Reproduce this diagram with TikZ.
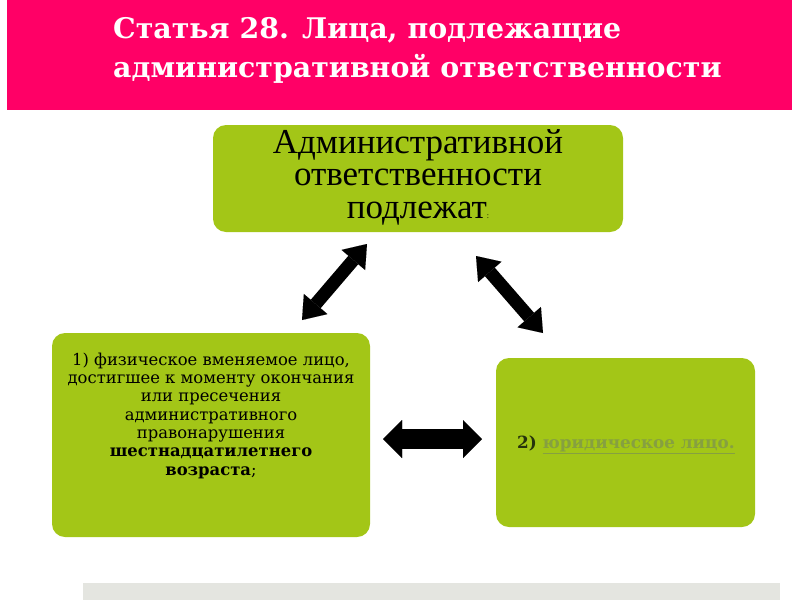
\documentclass[tikz,border=0pt]{standalone}
\usepackage{fontspec}
\setmainfont{Liberation Serif}
\newfontfamily\georgialike{DejaVu Serif}
\usetikzlibrary{arrows.meta}
\newcommand\tightlines{\lineskiplimit=-100pt\relax}
\definecolor{pinkhdr}{HTML}{FF0066}
\definecolor{boxgreen}{HTML}{A3C617}
\definecolor{linkgreen}{HTML}{86A040}
\definecolor{darkolive}{HTML}{26330C}
\definecolor{bargray}{HTML}{E4E5E0}
\begin{document}
\begin{tikzpicture}[x=1pt,y=-1pt,
  greenbox/.style={fill=boxgreen, rounded corners=13pt, inner sep=0pt, draw=none},
  boxtext/.style={align=center, inner sep=0pt, text=black},
  diagarrow/.style={line width=13pt, draw=black,
     {Triangle[width=31pt,length=21pt,line width=0.01pt]}-{Triangle[width=31pt,length=21pt,line width=0.01pt]}},
  horizarrow/.style={line width=20pt, draw=black,
     {Triangle[width=38pt,length=19pt,line width=0.01pt]}-{Triangle[width=38pt,length=19pt,line width=0.01pt]}}]
\useasboundingbox (0,0) rectangle (800,600);
% header
\node[fill=pinkhdr, minimum width=785pt, minimum height=110pt, inner sep=0pt, anchor=north west] (header) at (7,0) {};
\node[anchor=base west, text=white, align=left, inner sep=0pt,
      font=\georgialike\fontsize{28.4}{39}\selectfont\bfseries\tightlines] (title) at (113,77)
      {Статья 28. Лица, подлежащие\\административной ответственности};
% boxes
\node[greenbox, minimum width=410pt, minimum height=107pt] (topbox) at (418,178.5) {};
\node[boxtext, anchor=base, font=\fontsize{35}{32.5}\selectfont\tightlines] (toptext) at (418,218)
      {Административной\\ответственности\\подлежат{\fontsize{8}{8}\selectfont:}};
\node[greenbox, minimum width=318pt, minimum height=204pt] (leftbox) at (211,435) {};
\node[boxtext, anchor=base, font=\georgialike\fontsize{16.4}{18.3}\selectfont\tightlines] (lefttext) at (211,475)
      {1) физическое вменяемое лицо,\\достигшее к моменту окончания\\или пресечения\\административного\\правонарушения\\\textbf{шестнадцатилетнего}\\\textbf{возраста};};
\node[greenbox, minimum width=259pt, minimum height=169pt] (rightbox) at (625.5,442.5) {};
\node[anchor=base west, inner sep=0pt, text=darkolive, font=\georgialike\fontsize{16.8}{18}\selectfont\bfseries] (righttext) at (517,448)
      {2) \textcolor{linkgreen}{\underline{юридическое лицо.}}};
% bottom bar
\fill[bargray] (83,583) rectangle (780,600);
% arrows
\coordinate (a1s) at (302,320);
\coordinate (a1e) at (367,244);
\coordinate (a2s) at (476,256);
\coordinate (a2e) at (543,333);
\coordinate (a3s) at (383,439);
\coordinate (a3e) at (482,439);
\draw[diagarrow] (a1s) -- (a1e);
\draw[diagarrow] (a2s) -- (a2e);
\draw[horizarrow] (a3s) -- (a3e);
\end{tikzpicture}
\end{document}
